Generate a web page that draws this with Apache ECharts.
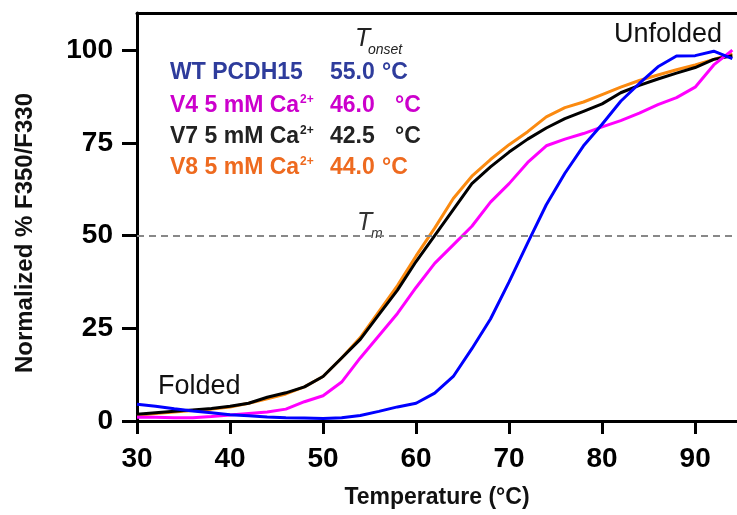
<!DOCTYPE html>
<html>
<head>
<meta charset="utf-8">
<script src="https://cdn.jsdelivr.net/npm/echarts@6/dist/echarts.min.js"></script>
<style>html,body{margin:0;padding:0;background:#fff}#c{width:737px;height:515px}</style>
</head>
<body>
<div id="c"></div>
<script>
var temps = [30,32,34,36,38,40,42,44,46,48,50,52,54,56,58,60,62,64,66,68,70,72,74,76,78,80,82,84,86,88,90,92,94];
var wtBlue = [4.5,4,3.3,2.7,2.2,1.7,1.4,1.1,0.9,0.8,0.7,0.9,1.5,2.6,3.8,4.8,7.5,12,19.5,27.5,37.5,48,58.3,66.8,74.2,80,86.2,91,95.5,98.4,98.5,99.7,97.7];
var v4Magenta = [1,1,0.9,0.9,1.2,1.6,2,2.4,3.2,5.2,6.8,10.5,17,23,29,36,42.5,47.5,52.5,59,64,69.7,74.2,76,77.5,79.3,81,83,85.3,87.2,90,96,100];
var v7Black = [1.8,2.2,2.6,3,3.4,4,4.8,6.4,7.6,9.2,12,17,22,28.7,35.3,43,50,57,64,68.5,72.5,76,79,81.5,83.5,85.5,88.5,90.5,92.2,93.8,95.3,97.5,98.5];
var v8Orange = [1.5,2,2.4,2.8,3.2,3.8,4.8,6,7.3,9.2,12,17,22.5,29.5,36.5,44.5,52,60,66,70.5,74.5,78,82,84.5,86,88,90,91.8,93.3,94.7,96,97.5,99];
var xTicks = [30,40,50,60,70,80,90];
var yTicks = [0,25,50,75,100];
var tmLevel = 50;
var legendNames = ['WT PCDH15','V4 5 mM Ca','V7 5 mM Ca','V8 5 mM Ca'];
var onsetValues = ['55.0','46.0','42.5','44.0'];

function pts(arr){ return temps.map(function(t,i){ return [t, arr[i]]; }); }

var chart = echarts.init(document.getElementById('c'), null, {renderer:'canvas'});
var F = 'Liberation Sans, Arial, sans-serif';
var tickLab = {fontFamily:F, fontWeight:'bold', fontSize:28, color:'#000'};
var lineW = 3;

var rowColors = ['#2E3C9C','#CC00CC','#222222','#EE6A1F'];
var rowY = [74,107,138,169];
var unitX = [382,395,395,382];
var graphics = [];
for (var i=0;i<4;i++){
  var sty;
  if (i===0){
    sty = {text:legendNames[i], fill:rowColors[i], font:'bold 23px '+F};
  } else {
    sty = {text:'{a|'+legendNames[i]+'}{s|2+}', fill:rowColors[i],
      rich:{a:{fontFamily:F,fontWeight:'bold',fontSize:23,fill:rowColors[i]}, s:{fontFamily:F,fontWeight:'bold',fontSize:12,fill:rowColors[i],padding:[0,0,11,1]}}};
  }
  graphics.push({type:'text', left:170, top:rowY[i]-13, style:sty});
  graphics.push({type:'text', left:330, top:rowY[i]-13, style:{text:onsetValues[i], fill:rowColors[i], font:'bold 23px '+F}});
  graphics.push({type:'text', left:unitX[i], top:rowY[i]-13, style:{text:'°C', fill:rowColors[i], font:'bold 23px '+F}});
}
graphics.push({type:'text', left:355, top:27, style:{text:'T', fill:'#222', font:'italic 25px '+F}});
graphics.push({type:'text', left:368, top:43, style:{text:'onset', fill:'#222', font:'italic 14px '+F}});
graphics.push({type:'text', left:357, top:211, style:{text:'T', fill:'#333', font:'italic 25px '+F}});
graphics.push({type:'text', left:371, top:227, style:{text:'m', fill:'#333', font:'italic 14px '+F}});
graphics.push({type:'text', left:158, top:373, style:{text:'Folded', fill:'#111', font:'27px '+F}});
graphics.push({type:'text', left:614, top:21, style:{text:'Unfolded', fill:'#111', font:'27px '+F}});

var option = {
  backgroundColor:'#fff',
  animation:false,
  grid:{left:137, top:13, right:0, bottom:94, containLabel:false},
  xAxis:[{
    type:'value', min:30, max:94.5, position:'bottom',
    name:'Temperature (°C)', nameLocation:'middle', nameGap:65,
    nameTextStyle:{fontFamily:F, fontWeight:'bold', fontSize:23, color:'#111'},
    axisLine:{show:true, onZero:false, lineStyle:{color:'#000', width:3}},
    axisTick:{show:true, customValues:xTicks, length:13, lineStyle:{color:'#000', width:3}},
    axisLabel:Object.assign({customValues:xTicks, margin:24}, tickLab),
    splitLine:{show:false}
  },{
    type:'value', min:30, max:94.5, position:'top',
    axisLine:{show:true, onZero:false, lineStyle:{color:'#000', width:3}},
    axisTick:{show:false}, axisLabel:{show:false}, splitLine:{show:false}
  }],
  yAxis:{
    type:'value', min:0, max:110,
    name:'Normalized % F350/F330', nameLocation:'middle', nameGap:100, nameRotate:90,
    nameTextStyle:{fontFamily:F, fontWeight:'bold', fontSize:24, color:'#111', padding:[0,32,0,0]},
    axisLine:{show:true, onZero:false, lineStyle:{color:'#000', width:3}},
    axisTick:{show:true, customValues:yTicks, length:15, lineStyle:{color:'#000', width:3}},
    axisLabel:Object.assign({customValues:yTicks, margin:24}, tickLab),
    splitLine:{show:false}
  },
  series:[
    {type:'line', name:'V8', data:pts(v8Orange), showSymbol:false, lineStyle:{color:'#FB8A10', width:lineW}, itemStyle:{color:'#FB8A10'}, z:2,
      markLine:{silent:true, symbol:['none','none'], label:{show:false}, lineStyle:{color:'#888', type:[7,5], width:2}, data:[{yAxis:tmLevel}]}},
    {type:'line', name:'V7', data:pts(v7Black), showSymbol:false, lineStyle:{color:'#000', width:lineW}, itemStyle:{color:'#000'}, z:3},
    {type:'line', name:'V4', data:pts(v4Magenta), showSymbol:false, lineStyle:{color:'#FF00FF', width:lineW}, itemStyle:{color:'#FF00FF'}, z:4},
    {type:'line', name:'WT', data:pts(wtBlue), showSymbol:false, lineStyle:{color:'#0000FF', width:lineW}, itemStyle:{color:'#0000FF'}, z:5}
  ],
  graphic:graphics
};
chart.setOption(option);
</script>
</body>
</html>
